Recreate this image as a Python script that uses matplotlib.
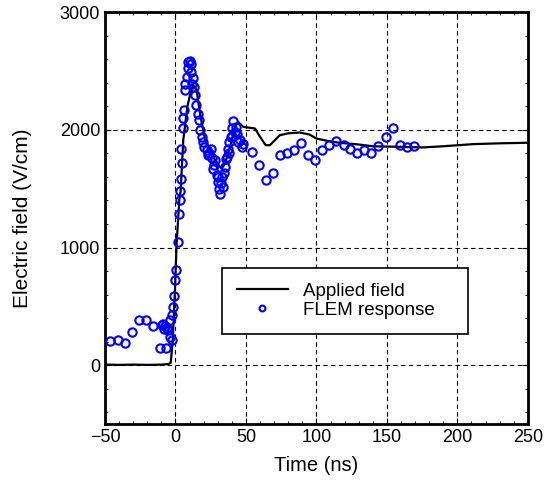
import matplotlib.pyplot as plt
from matplotlib.ticker import MultipleLocator
import numpy as np

plt.rc('font', family='Liberation Sans')

# applied field (ns, V/cm)
field_t = [-50, -40, -30, -20, -10, -5, -3.4, -2, -0.3, 0.8, 2.7, 3.7, 5.5, 8.4,
           10.8, 12.6, 15, 17.4, 21, 24.5, 29.2, 32.8, 35.1, 38.7, 42.2, 44.5,
           48, 51.6, 56.4, 60, 64, 67, 74, 80, 88, 95, 100, 110, 117, 130, 140,
           160, 175, 190, 211, 230, 250]
field_v = [5, 3, 5, 3, 5, 10, 20, 200, 665, 1036, 1402, 1487, 1912, 2195,
           2322, 2379, 2336, 2138, 1912, 1827, 1713, 1671, 1713, 1855, 2025, 2067,
           2025, 2019, 2011, 1940, 1869, 1869, 1954, 1970, 1977, 1960, 1926, 1900,
           1889, 1875, 1860, 1855, 1850, 1860, 1878, 1885, 1890]

# FLEM response
flem_t = [-46.4, -41, -36, -31, -26, -21, -16, -11, -6.6, -9.5, -8.6, -7.5, -6,
          -5.5, -8, -4, -4, -2.7, -2.5, -1.5, -0.8, 0, 0.4, 2, 2.7, 3.2, 3.2,
          3.7, 4.4, 3.9, 5.1, 5.5, 5.8, 6.5, 7, 7.9, 8.6, 9.1, 10.3, 11.2, 10.8,
          12.2, 11.9, 13.3, 13.8, 14.5, 15.7, 16.4, 17.4, 18.6, 19.3, 20.2, 22,
          23.3, 25.2, 25.7, 28, 26.8, 29.2, 30.4, 31, 31.6, 33.5, 34.4, 35.1,
          36.3, 37.5, 38.2, 39.1, 40.3, 41, 42.9, 43.8, 45.7, 46.9, 48,
          24, 27, 30, 32, 33, 36, 38, 40, 42, 44,
          54, 59, 64, 69, 74, 79, 84, 89, 94, 99, 104, 109, 114, 119.5, 124,
          129, 134, 139, 144, 149, 154, 159, 164, 169]
flem_v = [204, 212, 190, 283, 382, 382, 331, 144, 144, 340, 354, 330, 320,
          300, 310, 388, 240, 212, 425, 495, 586, 722, 813, 1048, 1283, 1402, 1481,
          1586, 1714, 1841, 2011, 2104, 2172, 2342, 2387, 2449, 2521, 2577, 2585, 2563, 2492,
          2444, 2387, 2364, 2294, 2209, 2138, 2082, 2002, 1940, 1897, 1855, 1827,
          1784, 1841, 1764, 1742, 1671, 1614, 1557, 1501, 1453, 1515, 1629, 1685,
          1770, 1841, 1897, 1940, 2019, 2073, 2025, 1968, 1912, 1855, 1883,
          1800, 1700, 1600, 1550, 1600, 1750, 1800, 1950, 1980, 1900,
          1812, 1705, 1572, 1634, 1790, 1804, 1827, 1892, 1784, 1742, 1827, 1869, 1906, 1869, 1833,
          1807, 1827, 1804, 1863, 1940, 2019, 1875, 1855, 1863]

fig = plt.figure(figsize=(5.47, 4.83), dpi=100)
ax = fig.add_axes([0.192, 0.122, 0.773, 0.853])

f_size = 13

ax.plot(field_t, field_v, color='black', lw=1.6, label='Applied field', zorder=3)
ax.plot(flem_t, flem_v, ls='none', marker='o', ms=6, mfc='none', mec='blue',
        mew=1.5, label='FLEM response', zorder=4)

ax.set_xlim(-50, 250)
ax.set_ylim(-500, 3000)
ax.xaxis.set_major_locator(MultipleLocator(50))
ax.xaxis.set_minor_locator(MultipleLocator(10))
ax.yaxis.set_major_locator(MultipleLocator(1000))
ax.yaxis.set_minor_locator(MultipleLocator(200))
ax.tick_params(which='both', direction='in', top=True, right=True, labelsize=f_size)
ax.tick_params(which='major', length=4)
ax.tick_params(which='minor', length=2)
for s in ax.spines.values():
    s.set_linewidth(2)

ax.grid(True, which='major', color='black', ls=(0, (4, 3)), lw=0.8)

ax.set_xlabel('Time (ns)', size=14.5, labelpad=7)
ax.set_ylabel('Electric field (V/cm)', size=15, labelpad=20)

leg = ax.legend(loc='upper left', bbox_to_anchor=(0.277, 0.221, 0.581, 0.158),
                mode='expand', borderaxespad=0, fontsize=13.5, frameon=True,
                fancybox=False, edgecolor='black', framealpha=1, handlelength=2.7,
                markerscale=0.7, borderpad=0.8, labelspacing=0.1)
leg.get_frame().set_linewidth(1.2)

fig.savefig('out.png', dpi=100)
